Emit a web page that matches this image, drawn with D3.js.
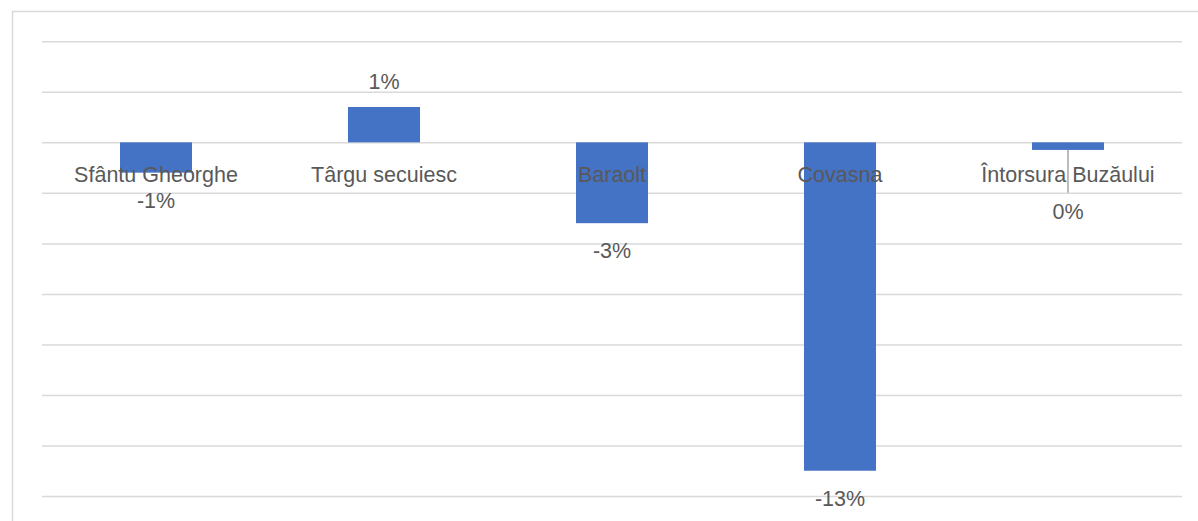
<!DOCTYPE html>
<html>
<head>
<meta charset="utf-8">
<script src="https://cdn.jsdelivr.net/npm/d3@7"></script>
<style>
  html, body { margin: 0; padding: 0; background: #fff; }
  svg { display: block; }
  text { font-family: "Liberation Sans", Arial, sans-serif; fill: #595959; }
</style>
</head>
<body>
<svg id="chart" width="1198" height="521"></svg>
<script>
const categories = ["Sfântu Gheorghe", "Târgu secuiesc", "Baraolt", "Covasna", "Întorsura Buzăului"];
const values = [-1.2, 1.4, -3.2, -13.0, -0.3];   // percent change
const yTicks = [-14, -12, -10, -8, -6, -4, -2, 0, 2, 4];

const W = 1198, H = 521;
const plot = { left: 42, right: 1182, top: 41.3, bottom: 496 };
const svg = d3.select("#chart");

svg.append("rect").attr("x", 0).attr("y", 0).attr("width", W).attr("height", H).attr("fill", "#fff");
// chart frame
svg.append("rect")
  .attr("x", 12.5).attr("y", 11.5).attr("width", W).attr("height", H)
  .attr("fill", "none").attr("stroke", "#d9d9d9").attr("stroke-width", 1.5);

const y = d3.scaleLinear().domain([d3.min(yTicks), d3.max(yTicks)]).range([plot.bottom, plot.top]);
const pad = 1 - 72 / 228;
const x = d3.scaleBand().domain(categories).range([plot.left, plot.right])
  .paddingInner(pad).paddingOuter(pad / 2);

// gridlines
const grid = svg.append("g").attr("transform", `translate(${plot.left},0)`)
  .call(d3.axisLeft(y).tickValues(yTicks).tickSize(-(plot.right - plot.left)).tickFormat(""));
grid.select(".domain").remove();
grid.selectAll(".tick line").attr("stroke", "#d9d9d9").attr("stroke-width", 1.5);

const data = categories.map((c, i) => ({ c, v: values[i] }));

// bars
svg.append("g").selectAll("rect").data(data).join("rect")
  .attr("x", d => x(d.c))
  .attr("width", x.bandwidth())
  .attr("y", d => y(Math.max(0, d.v)))
  .attr("height", d => Math.abs(y(d.v) - y(0)))
  .attr("fill", "#4472c4");

// category labels
svg.append("g").selectAll("text").data(data).join("text")
  .attr("x", d => x(d.c) + x.bandwidth() / 2)
  .attr("y", 181.5)
  .attr("text-anchor", "middle")
  .attr("font-size", 21.5)
  .text(d => d.c);

// data labels (last label was moved down manually, with a leader line)
const movedIndex = 4;
const labelY = (d, i) => i === movedIndex ? y(0) + 77 : (d.v >= 0 ? y(d.v) - 18 : y(d.v) + 35);
const fmt = v => `${Math.round(v)}%`;

const md = data[movedIndex];
svg.append("line")
  .attr("x1", x(md.c) + x.bandwidth() / 2).attr("x2", x(md.c) + x.bandwidth() / 2)
  .attr("y1", y(md.v)).attr("y2", y(-2))
  .attr("stroke", "#a6a6a6").attr("stroke-width", 1.5);

svg.append("g").selectAll("text").data(data).join("text")
  .attr("x", d => x(d.c) + x.bandwidth() / 2)
  .attr("y", labelY)
  .attr("text-anchor", "middle")
  .attr("font-size", 21.5)
  .text(d => fmt(d.v));
</script>
</body>
</html>
